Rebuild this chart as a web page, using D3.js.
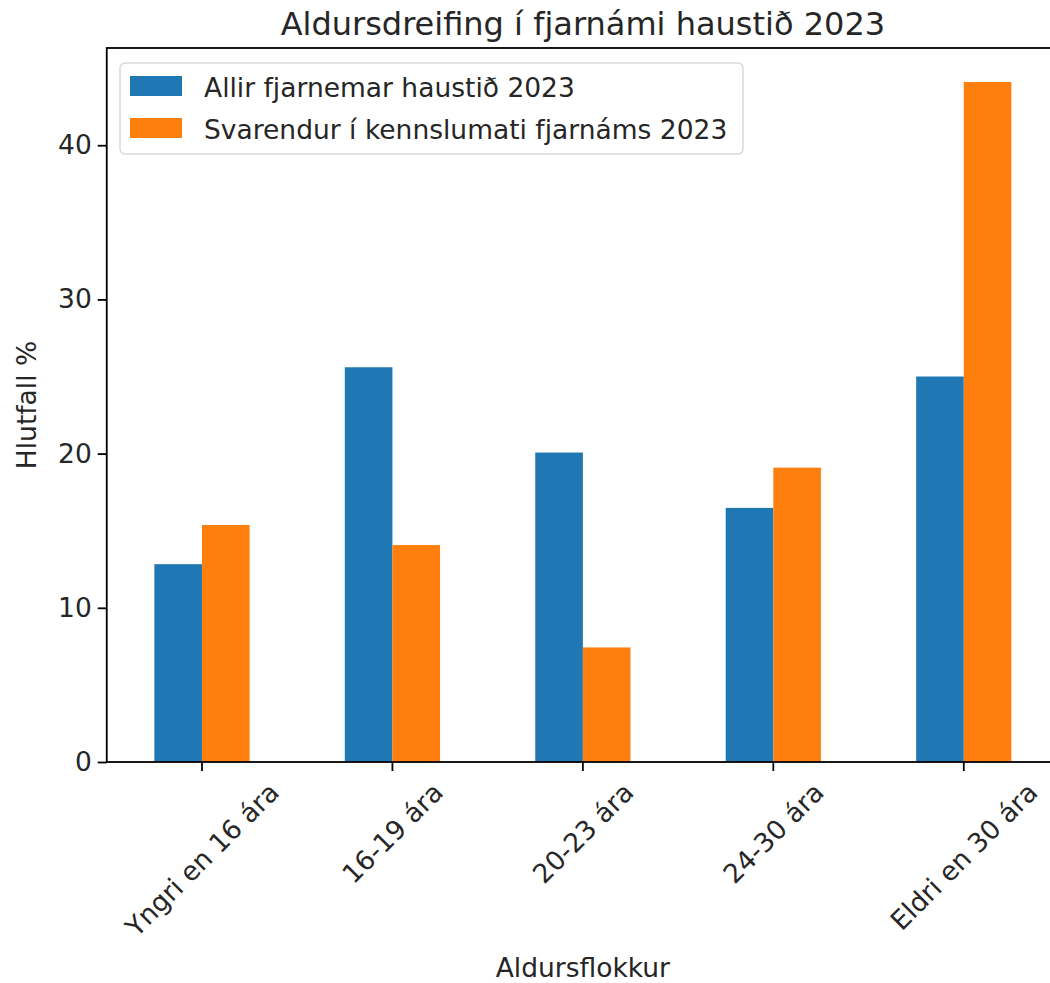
<!DOCTYPE html>
<html>
<head>
<meta charset="utf-8">
<script src="https://cdn.jsdelivr.net/npm/d3@7"></script>
<style>
  body { margin: 0; background: #fff; }
  text { font-family: "DejaVu Sans", sans-serif; fill: #262626; }
</style>
</head>
<body>
<div id="chart"></div>
<script>
// data
var categories = ["Yngri en 16 ára", "16-19 ára", "20-23 ára", "24-30 ára", "Eldri en 30 ára"];
var seriesNames = ["Allir fjarnemar haustið 2023", "Svarendur í kennslumati fjarnáms 2023"];
var allir = [12.83, 25.6, 20.07, 16.48, 25.0];
var svarendur = [15.37, 14.07, 7.43, 19.09, 44.1];
var yTicks = [0, 10, 20, 30, 40];
var colors = ["#1f77b4", "#ff7f0e"];

var svgWidth = 1050, svgHeight = 983;
var margin = { top: 48, left: 106.75, bottom: 221 };
var plotRight = 1059; // right spine is just outside the picture
var height = svgHeight - margin.top - margin.bottom;
var fs = 26.5;
var tickLen = 9;

var svg = d3.select("#chart").append("svg")
  .attr("width", svgWidth)
  .attr("height", svgHeight);

// position scale like pandas: category i at x=i, limits -0.5 .. n-0.5
var xLinear = d3.scaleLinear()
  .domain([-0.5, categories.length - 0.5])
  .range([margin.left, plotRight]);

var yMax = d3.max(svarendur.concat(allir)) * 1.05;
var y = d3.scaleLinear()
  .domain([0, yMax])
  .range([margin.top + height, margin.top]);

var barW = 0.25;
var series = [allir, svarendur];

series.forEach(function(vals, s) {
  svg.append("g").selectAll("rect")
    .data(vals)
    .enter()
    .append("rect")
    .attr("x", (d, i) => xLinear(i - 0.25 + s * barW))
    .attr("width", xLinear(barW) - xLinear(0))
    .attr("y", d => y(d))
    .attr("height", d => y(0) - y(d))
    .attr("fill", colors[s]);
});

// y axis
var leftAxis = d3.axisLeft(y).tickValues(yTicks).tickSize(tickLen).tickPadding(6);
var gy = svg.append("g")
  .attr("transform", `translate(${margin.left},0)`)
  .call(leftAxis);
gy.select(".domain").remove();
gy.selectAll(".tick line").attr("stroke", "#000").attr("stroke-width", 1.8);
gy.selectAll(".tick text").attr("font-size", fs).attr("font-family", "DejaVu Sans").attr("fill", "#262626");

// x ticks
var gx = svg.append("g");
categories.forEach(function(c, i) {
  var tx = xLinear(i);
  gx.append("line")
    .attr("x1", tx).attr("x2", tx)
    .attr("y1", y(0)).attr("y2", y(0) + tickLen)
    .attr("stroke", "#000").attr("stroke-width", 1.8);
  var t = gx.append("text")
    .attr("font-size", fs)
    .attr("text-anchor", "middle")
    .attr("dominant-baseline", "central")
    .text(c);
  var w = t.node().getComputedTextLength();
  var fh = fs * 1.1;
  var h = (w + fh) * Math.SQRT1_2;
  var cy = y(0) + tickLen + 6 + h / 2;
  t.attr("transform", `translate(${tx},${cy}) rotate(-45)`);
});

// spines
svg.append("rect")
  .attr("x", margin.left)
  .attr("y", margin.top)
  .attr("width", plotRight - margin.left)
  .attr("height", height)
  .attr("fill", "none")
  .attr("stroke", "#000")
  .attr("stroke-width", 1.8);

// title and axis labels
svg.append("text")
  .attr("x", (margin.left + plotRight) / 2)
  .attr("y", 35)
  .attr("text-anchor", "middle")
  .attr("font-size", 32)
  .text("Aldursdreifing í fjarnámi haustið 2023");

svg.append("text")
  .attr("transform", `translate(36,${margin.top + height / 2}) rotate(-90)`)
  .attr("text-anchor", "middle")
  .attr("font-size", fs)
  .text("Hlutfall %");

svg.append("text")
  .attr("x", (margin.left + plotRight) / 2)
  .attr("y", 977)
  .attr("text-anchor", "middle")
  .attr("font-size", fs)
  .text("Aldursflokkur");

// legend
var legend = svg.append("g");
legend.append("rect")
  .attr("x", 120).attr("y", 63)
  .attr("width", 623).attr("height", 91)
  .attr("rx", 5)
  .attr("fill", "#fff")
  .attr("fill-opacity", 0.8)
  .attr("stroke", "#d9d9d9")
  .attr("stroke-width", 1.5);

seriesNames.forEach(function(n, i) {
  legend.append("rect")
    .attr("x", 130).attr("y", 76 + i * 42)
    .attr("width", 52).attr("height", 20)
    .attr("fill", colors[i]);
  legend.append("text")
    .attr("x", 204).attr("y", 87 + i * 42)
    .attr("dominant-baseline", "central")
    .attr("font-size", fs)
    .text(n);
});
</script>
</body>
</html>
